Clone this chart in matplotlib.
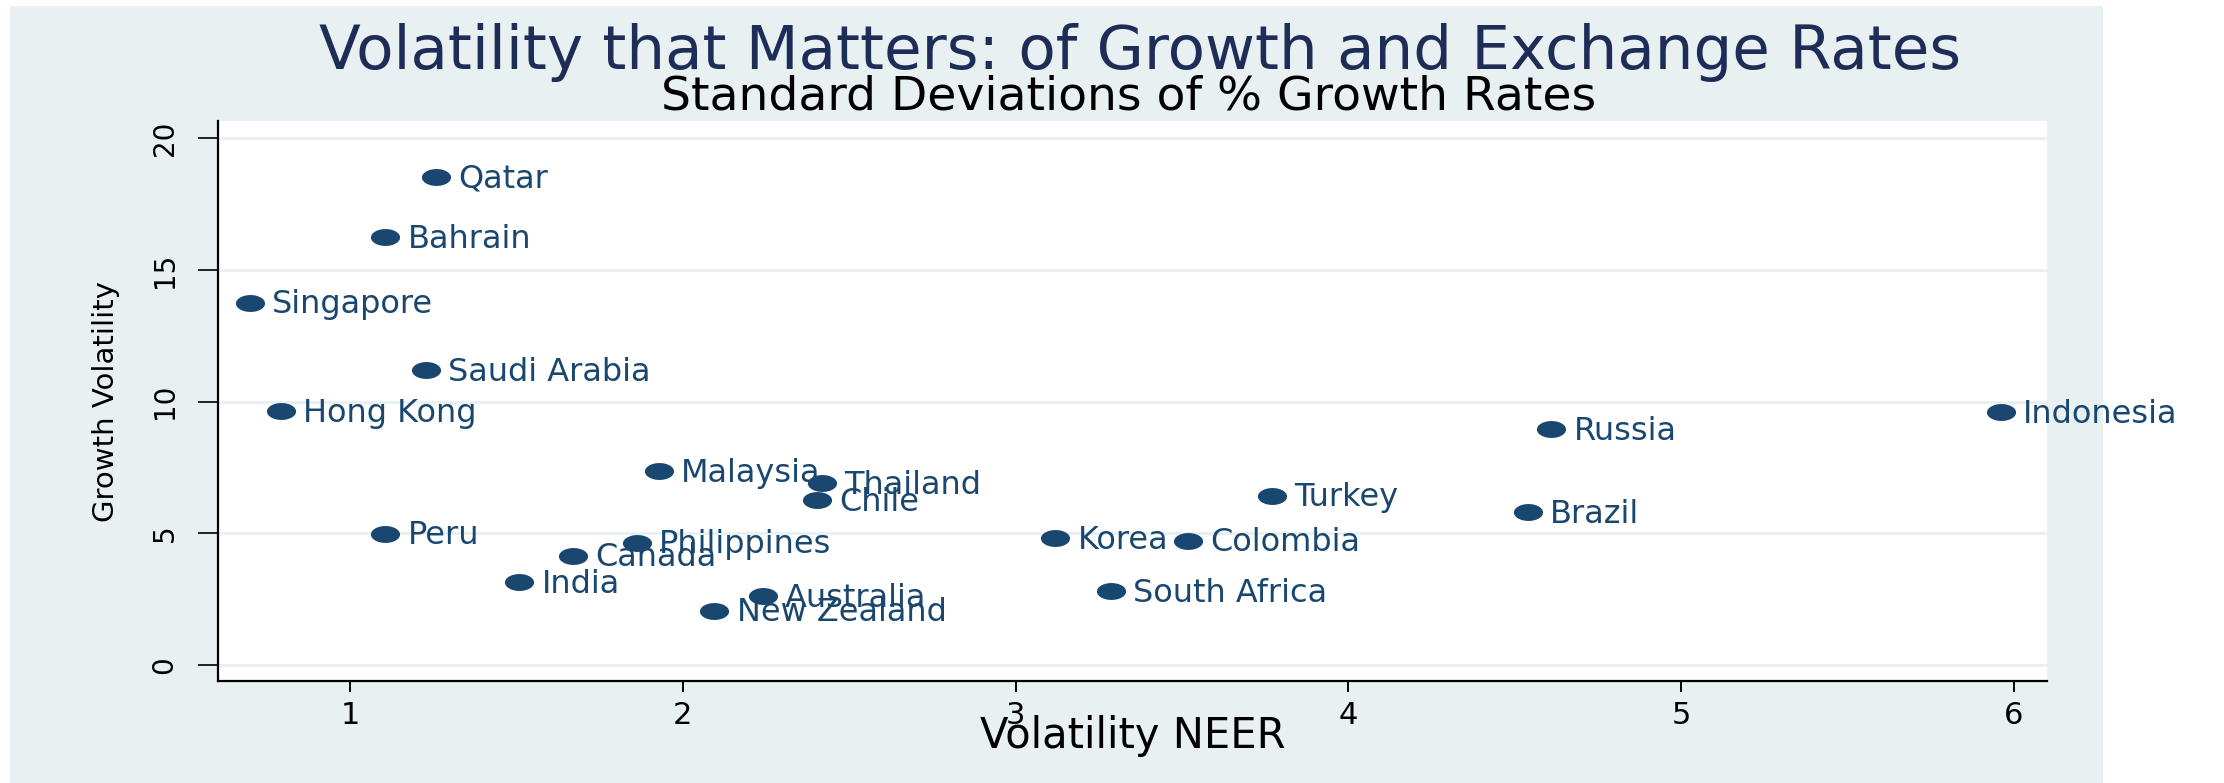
import numpy as np
import matplotlib
matplotlib.use("Agg")
import matplotlib.pyplot as plt
from matplotlib.path import Path
from matplotlib.patches import Rectangle

# ---- data ----
countries = ["Qatar", "Bahrain", "Singapore", "Saudi Arabia", "Hong Kong",
             "Malaysia", "Thailand", "Chile", "Turkey", "Peru", "Philippines",
             "Canada", "India", "Korea", "Colombia", "South Africa",
             "Australia", "New Zealand", "Indonesia", "Russia", "Brazil"]
neer_vol = [1.259, 1.106, 0.699, 1.228, 0.793,
            1.928, 2.419, 2.403, 3.771, 1.106, 1.861,
            1.670, 1.509, 3.120, 3.517, 3.287,
            2.240, 2.095, 5.961, 4.610, 4.540]
growth_vol = [18.54, 16.24, 13.76, 11.20, 9.63,
              7.36, 6.90, 6.26, 6.43, 4.98, 4.65,
              4.15, 3.14, 4.81, 4.72, 2.79,
              2.60, 2.06, 9.59, 8.96, 5.81]
x_ticks = [1, 2, 3, 4, 5, 6]
y_ticks = [0, 5, 10, 15, 20]

title = "Volatility that Matters: of Growth and Exchange Rates"
subtitle = "Standard Deviations of % Growth Rates"
xlabel = "Volatility NEER"
ylabel = "Growth Volatility"

# ---- style ----
W, H = 2224, 783
navy = "#1A476F"
title_col = "#1E2D57"
bg = "#E8F0F2"
grid_col = "#E8F0F2"
plt.rcParams["font.family"] = ["DejaVu Sans"]

fig = plt.figure(figsize=(W / 100, H / 100), dpi=100, facecolor="white")
# graph region background
fig.patches.append(Rectangle((10 / W, 0), (2103 - 10) / W, 1 - 6 / H,
                             transform=fig.transFigure, facecolor=bg,
                             edgecolor="none", zorder=-5))

ax = fig.add_axes([218 / W, 1 - 681 / H, (2047 - 218) / W, (681 - 121) / H])
ax.set_zorder(2)
ax.set_facecolor("white")

# elliptical marker (wider than tall, as in the reference)
t = np.linspace(0, 2 * np.pi, 60)
ellipse = Path(np.column_stack([np.cos(t), 0.58 * np.sin(t)]), closed=True)

ax.plot(neer_vol, growth_vol, linestyle="none", marker=ellipse,
        markersize=21, color=navy, markeredgewidth=0, zorder=3)
for name, xv, yv in zip(countries, neer_vol, growth_vol):
    ax.annotate(name, (xv, yv), xytext=(16, -1.5), textcoords="offset points",
                ha="left", va="center", color=navy, fontsize=23, zorder=4,
                annotation_clip=False)

ax.set_xlim(0.603, 6.10)
ax.set_ylim(-0.61, 20.66)
ax.set_xticks(x_ticks)
ax.set_yticks(y_ticks)
ax.yaxis.grid(True, color=grid_col, linewidth=2.2, zorder=1)
ax.xaxis.grid(False)
ax.set_axisbelow(True)

for s in ["top", "right"]:
    ax.spines[s].set_visible(False)
for s in ["left", "bottom"]:
    ax.spines[s].set_linewidth(1.6)
    ax.spines[s].set_color("black")

ax.tick_params(axis="x", direction="out", length=7.6, width=1.4,
               labelsize=22, pad=7)
ax.tick_params(axis="y", direction="out", length=14.4, width=1.2,
               labelsize=20, pad=14)
for lab in ax.get_yticklabels():
    lab.set_rotation(90)
    lab.set_va("center")
    lab.set_ha("right")

ax.set_xlabel(xlabel, fontsize=30)
ax.xaxis.label.set_va("baseline")
ax.xaxis.set_label_coords(0.5, (681 - 748) / (681 - 121))
ax.set_ylabel(ylabel, fontsize=21)
ax.yaxis.label.set_va("baseline")
ax.yaxis.set_label_coords((114 - 218) / (2047 - 218), 0.5)

fig.text(1140 / W, 1 - 69 / H, title, ha="center", va="baseline",
         fontsize=44, color=title_col)
fig.text(1129 / W, 1 - 110 / H, subtitle, ha="center", va="baseline",
         fontsize=34, color="black")

fig.savefig("out.png", dpi=100, facecolor="white")
